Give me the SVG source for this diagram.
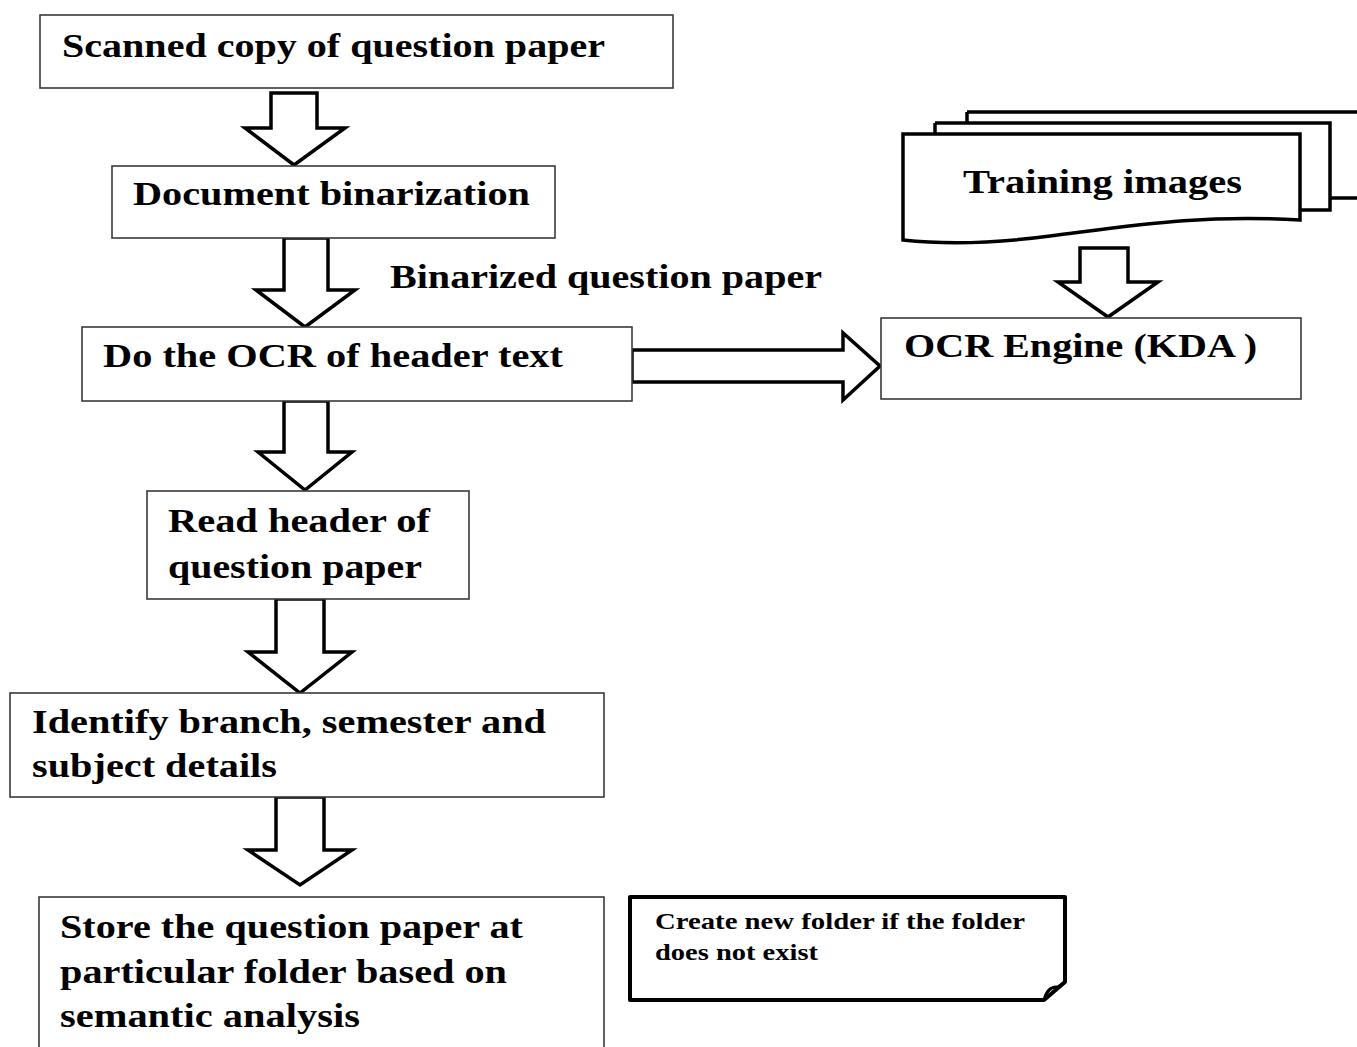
<svg xmlns="http://www.w3.org/2000/svg" width="1357" height="1047" viewBox="0 0 1357 1047">
<style>
.box{fill:#fff;stroke:#3a3a3a;stroke-width:1.6}
.arr{fill:#fff;stroke:#000;stroke-width:3.5;stroke-linejoin:miter}
.doc{fill:#fff;stroke:#000;stroke-width:3.5}
.t{font-family:"Liberation Serif","Times New Roman",serif;font-weight:bold;font-size:33px;fill:#000}
.n{font-family:"Liberation Serif","Times New Roman",serif;font-weight:bold;font-size:24px;fill:#000}
</style>
<rect width="1357" height="1047" fill="#fff"/>
<g id="connectors">
<path class="arr" d="M271,93 L317,93 L317,128 L345,128 L294,165 L245,128 L271,128 Z"/>
<path class="arr" d="M284,238 L328,238 L328,290 L355,290 L305,327 L256,290 L284,290 Z"/>
<path class="arr" d="M284,401 L328,401 L328,452 L352,452 L305,490 L258,452 L284,452 Z"/>
<path class="arr" d="M276,599 L324,599 L324,652 L352,652 L300,693 L248,652 L276,652 Z"/>
<path class="arr" d="M276,797 L324,797 L324,850 L352,850 L300,885 L248,850 L276,850 Z"/>
<path class="arr" d="M1080,248 L1128,248 L1128,282 L1158,282 L1108,317 L1058,282 L1080,282 Z"/>
<path class="arr" d="M632,350 L843,350 L843,333 L880,366 L843,400 L843,382 L632,382 Z"/>
</g>
<g id="n1"><rect class="box" x="40" y="15" width="633" height="73"/><text class="t" x="62" y="57" textLength="543" lengthAdjust="spacingAndGlyphs">Scanned copy of question paper</text></g>
<g id="n2"><rect class="box" x="112" y="166" width="443" height="72"/><text class="t" x="133" y="205" textLength="397" lengthAdjust="spacingAndGlyphs">Document binarization</text></g>
<g id="lbl"><text class="t" x="390" y="288" textLength="432" lengthAdjust="spacingAndGlyphs">Binarized question paper</text></g>
<g id="n3"><rect class="box" x="82" y="327" width="550" height="74"/><text class="t" x="103" y="367" textLength="460" lengthAdjust="spacingAndGlyphs">Do the OCR of header text</text></g>
<g id="n4"><rect class="box" x="881" y="318" width="420" height="81"/><text class="t" x="904" y="357" textLength="353" lengthAdjust="spacingAndGlyphs">OCR Engine (KDA )</text></g>
<g id="training">
<path class="doc" d="M967,112 L1360,112 M1330,198 L1360,198"/>
<path class="doc" d="M967,122 L967,112"/>
<path class="doc" d="M935,123 L1330,123 L1330,210 L1300,210"/>
<path class="doc" d="M935,134 L935,123"/>
<path class="doc" d="M903,134 L1300,134 L1300,220 C1200,214 1130,226 1050,236 C990,244 940,244 903,240 Z"/>
<text class="t" x="963" y="193" textLength="279" lengthAdjust="spacingAndGlyphs">Training images</text>
</g>
<g id="n5"><rect class="box" x="147" y="491" width="322" height="108"/><text class="t" x="168" y="532" textLength="262" lengthAdjust="spacingAndGlyphs">Read header of</text><text class="t" x="168" y="578" textLength="254" lengthAdjust="spacingAndGlyphs">question paper</text></g>
<g id="n6"><rect class="box" x="10" y="693" width="594" height="104"/><text class="t" x="32" y="733" textLength="514" lengthAdjust="spacingAndGlyphs">Identify branch, semester and</text><text class="t" x="32" y="777" textLength="245" lengthAdjust="spacingAndGlyphs">subject details</text></g>
<g id="n7"><rect class="box" x="39" y="897" width="565" height="160"/><text class="t" x="60" y="938" textLength="463" lengthAdjust="spacingAndGlyphs">Store the question paper at</text><text class="t" x="60" y="983" textLength="447" lengthAdjust="spacingAndGlyphs">particular folder based on</text><text class="t" x="60" y="1027" textLength="300" lengthAdjust="spacingAndGlyphs">semantic analysis</text></g>
<g id="note">
<path d="M630,897 L1065,897 L1065,982 L1044,1000 L630,1000 Z" fill="#fff" stroke="#000" stroke-width="4" stroke-linejoin="round"/>
<path d="M1044,1000 C1046,992 1050,986 1058,987 L1065,982" fill="none" stroke="#000" stroke-width="3"/>
<text class="n" x="655" y="929" textLength="370" lengthAdjust="spacingAndGlyphs">Create new folder if the folder</text>
<text class="n" x="655" y="960" textLength="163" lengthAdjust="spacingAndGlyphs">does not exist</text>
</g>
</svg>
